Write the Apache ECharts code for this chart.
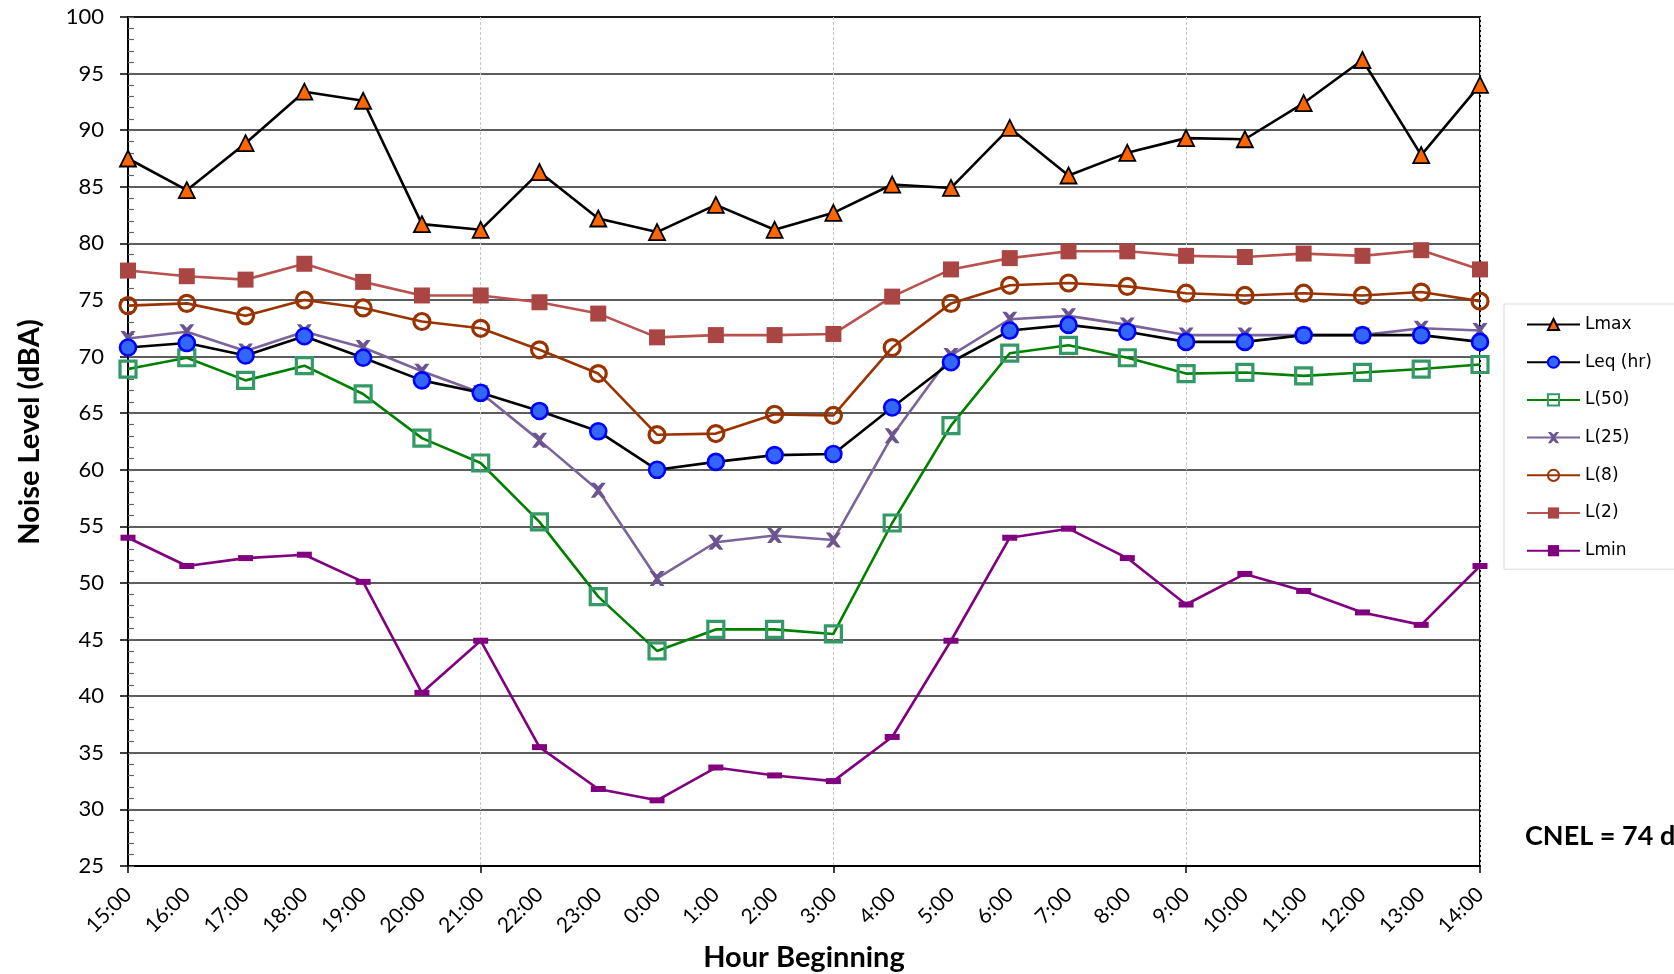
<!DOCTYPE html>
<html>
<head>
<meta charset="utf-8">
<script src="https://cdn.jsdelivr.net/npm/echarts@6/dist/echarts.min.js"></script>
<style>
html,body{margin:0;padding:0;background:#fff;}
#chart{width:1674px;height:974px;}
</style>
</head>
<body>
<div id="chart"></div>
<script>
const hours = ['15:00','16:00','17:00','18:00','19:00','20:00','21:00','22:00','23:00','0:00','1:00','2:00','3:00','4:00','5:00','6:00','7:00','8:00','9:00','10:00','11:00','12:00','13:00','14:00'];
const lmax = [87.5,84.7,88.85,93.4,92.6,81.7,81.2,86.3,82.2,81.0,83.4,81.2,82.7,85.2,84.9,90.2,86.0,88.0,89.3,89.2,92.4,96.2,87.8,94.0];
const leq  = [70.8,71.2,70.1,71.8,69.9,67.9,66.8,65.2,63.4,60.0,60.7,61.3,61.4,65.5,69.5,72.3,72.8,72.2,71.3,71.3,71.9,71.9,71.9,71.3];
const l50  = [68.9,69.9,67.9,69.2,66.7,62.8,60.6,55.4,48.8,44.0,45.9,45.9,45.5,55.3,63.9,70.3,71.0,69.9,68.5,68.6,68.3,68.6,68.9,69.3];
const l25  = [71.6,72.2,70.5,72.2,70.8,68.7,66.8,62.6,58.2,50.4,53.6,54.2,53.8,63.0,70.1,73.3,73.6,72.8,71.9,71.9,71.9,71.9,72.5,72.3];
const l8   = [74.5,74.7,73.6,75.0,74.3,73.1,72.5,70.6,68.5,63.1,63.2,64.9,64.8,70.8,74.7,76.3,76.5,76.2,75.6,75.4,75.6,75.4,75.7,74.9];
const l2   = [77.6,77.1,76.8,78.2,76.6,75.4,75.4,74.8,73.8,71.7,71.9,71.9,72.0,75.3,77.7,78.7,79.3,79.3,78.9,78.8,79.1,78.9,79.4,77.7];
const lmin = [54.0,51.5,52.2,52.5,50.1,40.3,44.9,35.5,31.8,30.8,33.7,33.0,32.5,36.4,44.9,54.0,54.8,52.2,48.1,50.8,49.3,47.4,46.3,51.5];
const seriesNames = ['Lmax','Leq (hr)','L(50)','L(25)','L(8)','L(2)','Lmin'];
const yTicks = {min:25, max:100, step:5};
const yTitle = 'Noise Level (dBA)';
const xTitle = 'Hour Beginning';
const cnelText = 'CNEL = 74 dBA';

const chart = echarts.init(document.getElementById('chart'), null, {renderer:'canvas'});
const tickFont = 'Lato, "Open Sans", sans-serif';
const xPath = 'path://M0,0 L2.7,0 L5,2.3 L7.3,0 L10,0 L6.4,5 L10,10 L7.3,10 L5,7.7 L2.7,10 L0,10 L3.6,5 Z';

function line(name, data, lineColor, symbol, size, fill, border, bw, z){
  return {
    name, type:'line', data, yAxisIndex:0,
    symbol, symbolSize:size, showAllSymbol:true,
    lineStyle:{color:lineColor, width:2.6},
    itemStyle:{color:fill, borderColor:border, borderWidth:bw},
    emphasis:{disabled:true}, animation:false, z:z
  };
}

chart.setOption({
  animation:false,
  backgroundColor:'#fff',
  grid:{left:128, right:194, top:17, bottom:108, containLabel:false, outerBoundsMode:'none',
        show:true, borderColor:'#000', borderWidth:2, backgroundColor:'transparent'},
  legend:{
    orient:'vertical', left:1504, top:304,
    padding:[12,23,10,22], itemGap:20.7, itemWidth:53, itemHeight:14,
    borderColor:'#d9d9d9', borderWidth:1, backgroundColor:'#fff',
    textStyle:{fontFamily:'"DejaVu Sans", sans-serif', fontSize:17, color:'#000', padding:[0,0,0,0]},
    data:seriesNames
  },
  xAxis:{
    type:'category', data:hours, boundaryGap:false,
    name:xTitle, nameLocation:'middle', nameGap:68,
    nameTextStyle:{fontFamily:tickFont, fontWeight:'bold', fontSize:29, color:'#000'},
    axisLine:{lineStyle:{color:'#000', width:2}},
    axisTick:{show:true, interval:5, length:7, lineStyle:{color:'#000', width:1.5}},
    axisLabel:{interval:0, rotate:45, margin:25, fontFamily:tickFont, fontSize:21, color:'#000'},
    splitLine:{show:true, interval:5, lineStyle:{color:'#c8c8c8', width:1, type:[3,2]}}
  },
  yAxis:[{
    type:'value', min:yTicks.min, max:yTicks.max, interval:yTicks.step,
    axisLine:{show:true, lineStyle:{color:'#000', width:2}},
    axisTick:{show:true, length:8, lineStyle:{color:'#000', width:1.5}},
    axisLabel:{margin:24, fontFamily:tickFont, fontSize:22, color:'#000'},
    splitLine:{show:true, lineStyle:{color:'#262626', width:1.6}}
  },{
    type:'value', min:yTicks.min, max:yTicks.max, interval:1, position:'left',
    axisLine:{show:false}, axisLabel:{show:false}, splitLine:{show:false},
    axisTick:{show:true, inside:true, length:6, lineStyle:{color:'#666', width:1.2}}
  }],
  graphic:[{
    type:'text', x:30, y:432, rotation:Math.PI/2,
    style:{text:yTitle, font:'bold 29px Lato, "Open Sans", sans-serif', fill:'#000',
           textAlign:'center', textVerticalAlign:'middle'}
  },{
    type:'text', x:1525, y:836,
    style:{text:cnelText, font:'bold 27px Lato, "Open Sans", sans-serif', fill:'#000',
           textAlign:'left', textVerticalAlign:'middle'}
  }],
  series:[
    line('Lmin', lmin, '#800080', 'rect', [15,6], '#800080', '#800080', 0, 3),
    line('L(2)', l2, '#b9514e', 'rect', 16, '#a94543', '#a94543', 0, 4),
    line('L(8)', l8, '#993300', 'circle', 16, 'rgba(255,255,255,0)', '#993300', 3.2, 5),
    line('L(25)', l25, '#7a6499', xPath, 15, '#6b5590', '#6b5590', 0, 6),
    line('L(50)', l50, '#008000', 'rect', 16, 'rgba(255,255,255,0)', '#339966', 3.2, 7),
    line('Leq (hr)', leq, '#000000', 'circle', 16, '#3366ff', '#0000ff', 2.6, 8),
    line('Lmax', lmax, '#000000', 'triangle', 16, '#ff6600', '#000000', 1.8, 9)
  ]
});
</script>
</body>
</html>
